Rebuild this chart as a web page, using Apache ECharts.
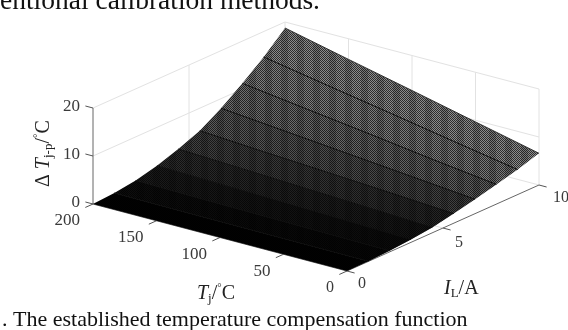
<!DOCTYPE html>
<html>
<head>
<meta charset="utf-8">
<style>html,body{margin:0;padding:0;background:#fff}#main{width:568px;height:330px}</style>
<script src="https://cdn.jsdelivr.net/npm/echarts@6/dist/echarts.min.js"></script>
</head>
<body>
<div id="main"></div>
<script>
// load current grid lines and junction temperature stations of the surface
var currents = [0, 1.11, 2.22, 3.33, 4.44, 5.56, 6.67, 7.78, 8.89, 10];
var temps = [0, 50, 100, 150, 200];
// compensation, one list per temperature station
var dT0 = [0, 0.05, 0.25, 0.6, 1.1, 2.0, 3.0, 4.1, 5.2, 6.6];
var dT50 = [0, 0.1, 0.4, 0.95, 1.7, 2.85, 4.25, 5.8, 7.55, 9.65];
var dT100 = [0, 0.15, 0.55, 1.3, 2.3, 3.65, 5.5, 7.65, 9.95, 12.7];
var dT150 = [0, 0.2, 0.7, 1.65, 2.9, 4.45, 6.75, 9.4, 12.3, 15.7];
var dT200 = [0, 0.3, 0.9, 2.0, 3.5, 5.3, 8.0, 11.2, 14.7, 18.75];
var tempTicks = [200, 150, 100, 50, 0];
var currentTicks = [0, 5, 10];
var dTTicks = [0, 10, 20];

var surface = [dT0, dT50, dT100, dT150, dT200];

// view of the 3d box on the page
function project(T, I, z) {
  return [347 - 1.27 * T + 19.2 * I, 271 - 0.335 * T - 8.6 * I - 4.8 * z];
}

// dither for each band between the current lines: [dark, light]
var bandTone = [[0, 2], [4, 14], [10, 28], [16, 46], [24, 68], [30, 92], [34, 112], [40, 128], [44, 140]];
// how much each band darkens towards the T = 0 end
var bandShade = [0, 0.5, 0.6, 0.55, 0.45, 0.3, 0.15, 0.05, 0];

function ditherFill(tone) {
  var c = document.createElement('canvas');
  c.width = 16; c.height = 2;
  var ctx = c.getContext('2d');
  for (var x = 0; x < 16; x++) {
    for (var y = 0; y < 2; y++) {
      var g = (x + y) % 2 ? tone[1] : tone[0];
      if (x % 16 >= 9) g = Math.round(g * 0.85);
      ctx.fillStyle = 'rgb(' + g + ',' + g + ',' + g + ')';
      ctx.fillRect(x, y, 1, 1);
    }
  }
  return {image: c, repeat: 'repeat'};
}
var bandFill = bandTone.map(ditherFill);

var chart = echarts.init(document.getElementById('main'), null, {renderer: 'canvas'});

function pt(api, T, I, z) {
  return api.coord(project(T, I, z));
}

// straight box lines: [T0, I0, z0, T1, I1, z1]
var wallLines = [];
[10, 20].forEach(function (z) {
  wallLines.push([200, 0, z, 200, 10, z]);
  wallLines.push([200, 10, z, 0, 10, z]);
});
[5, 10].forEach(function (I) { wallLines.push([200, I, 0, 200, I, 20]); });
[150, 100, 50, 0].forEach(function (T) { wallLines.push([T, 10, 0, T, 10, 20]); });
[200, 150, 100, 50].forEach(function (T) { wallLines.push([T, 0, 0, T, 10, 0]); });
[0, 5, 10].forEach(function (I) { wallLines.push([0, I, 0, 200, I, 0]); });

var axisLines = [
  [200, 0, 0, 200, 0, 20],
  [0, 0, 0, 200, 0, 0],
  [0, 0, 0, 0, 10, 0]
];
var tickLines = [];
tempTicks.forEach(function (T) { tickLines.push([T, 0, 0, T, -0.4, 0]); });
currentTicks.forEach(function (I) { tickLines.push([0, I, 0, -6, I, 0]); });
dTTicks.forEach(function (z) { tickLines.push([206, 0, z, 200, 0, z]); });

function lineSeries(rows, color, width) {
  return {
    type: 'custom',
    coordinateSystem: 'cartesian2d',
    silent: true,
    data: rows,
    renderItem: function (params, api) {
      var r = rows[params.dataIndex];
      var a = pt(api, r[0], r[1], r[2]);
      var b = pt(api, r[3], r[4], r[5]);
      return {type: 'line', shape: {x1: a[0], y1: a[1], x2: b[0], y2: b[1]},
        style: {stroke: color, lineWidth: width, fill: null}};
    }
  };
}

var bandIdx = [];
for (var b = currents.length - 2; b >= 0; b--) bandIdx.push(b);

var surfaceSeries = {
  type: 'custom',
  coordinateSystem: 'cartesian2d',
  silent: true,
  data: bandIdx,
  renderItem: function (params, api) {
    var b = bandIdx[params.dataIndex];
    var pts = [];
    temps.forEach(function (T, k) { pts.push(pt(api, T, currents[b], surface[k][b])); });
    for (var k = temps.length - 1; k >= 0; k--) pts.push(pt(api, temps[k], currents[b + 1], surface[k][b + 1]));
    var from = pts[0], to = pts[temps.length - 1];
    var shade = new echarts.graphic.LinearGradient(from[0], from[1], to[0], to[1], [
      {offset: 0, color: 'rgba(0,0,0,' + bandShade[b] + ')'},
      {offset: 1, color: 'rgba(0,0,0,0)'}
    ], true);
    return {type: 'group', children: [
      {type: 'polygon', shape: {points: pts}, style: {fill: bandFill[b]}},
      {type: 'polygon', shape: {points: pts}, style: {fill: shade}}
    ]};
  }
};

var meshSeries = {
  type: 'custom',
  coordinateSystem: 'cartesian2d',
  silent: true,
  data: currents.slice(1),
  renderItem: function (params, api) {
    var n = params.dataIndex + 1;
    var pts = temps.map(function (T, k) { return pt(api, T, currents[n], surface[k][n]); });
    return {type: 'polyline', shape: {points: pts},
      style: {stroke: n === currents.length - 1 ? '#333' : '#0a0a0a', lineWidth: 1, fill: null}};
  }
};

// tick labels: [T, I, z, text, dx, dy, align, size]
var tickText = [];
tempTicks.forEach(function (T) { tickText.push([T, 0, 0, String(T), -13, 17, 'right', T === 0 ? 16 : 17]); });
tickText.push([0, 0, 0, '0', 15, 13, 'center', 16]);
tickText.push([0, 5, 0, '5', 16, 15, 'center', 16]);
tickText.push([0, 10, 0, '10', 22, 13, 'center', 16]);
dTTicks.forEach(function (z) { tickText.push([200, 0, z, String(z), -13, -1, 'right', 17]); });

var labelSeries = {
  type: 'custom',
  coordinateSystem: 'cartesian2d',
  silent: true,
  data: tickText,
  renderItem: function (params, api) {
    var r = tickText[params.dataIndex];
    var a = pt(api, r[0], r[1], r[2]);
    return {type: 'text', x: a[0] + r[4], y: a[1] + r[5],
      style: {text: r[3], align: r[6], verticalAlign: 'middle', fill: '#3a3a3a',
        font: r[7] + 'px "Liberation Serif"'}};
  }
};

var serif = '"Liberation Serif"';
var rich = {
  it: {fontFamily: serif, fontStyle: 'italic', fontSize: 20, fill: '#222'},
  sub: {fontFamily: serif, fontSize: 13, fill: '#222', verticalAlign: 'bottom', padding: [9, 0, 0, 0]},
  deg: {fontFamily: serif, fontSize: 11, fill: '#222', verticalAlign: 'top'},
  up: {fontFamily: serif, fontSize: 20, fill: '#222'}
};

chart.setOption({
  animation: false,
  backgroundColor: '#fff',
  grid: {left: 0, right: 0, top: 0, bottom: 0},
  xAxis: {type: 'value', min: 0, max: 568, show: false},
  yAxis: {type: 'value', min: 0, max: 330, inverse: true, show: false},
  series: [
    lineSeries(wallLines, '#e2e2e2', 1),
    lineSeries(axisLines, '#666', 1),
    lineSeries(tickLines, '#555', 1),
    surfaceSeries,
    meshSeries,
    labelSeries
  ],
  graphic: [
    {type: 'text', x: 0, y: -12, style: {text: 'entional calibration methods.',
      font: '27.5px ' + serif, fill: '#111'}},
    {type: 'text', x: 2, y: 309, style: {text: '. The established temperature compensation function',
      font: '22px ' + serif, fill: '#111'}},
    {type: 'text', x: 197, y: 283, style: {text: '{it|T}{sub|j}{up|/}{deg|°}{up|C}', rich: rich}},
    {type: 'text', x: 444, y: 278, style: {text: '{it|I}{sub|L}{up|/A}', rich: rich}},
    {type: 'text', x: 33, y: 187, rotation: Math.PI / 2, style: {text: '{up|Δ }{it|T}{sub|j-p}{up|/}{deg|°}{up|C}', rich: rich}}
  ]
});
</script>
</body>
</html>
